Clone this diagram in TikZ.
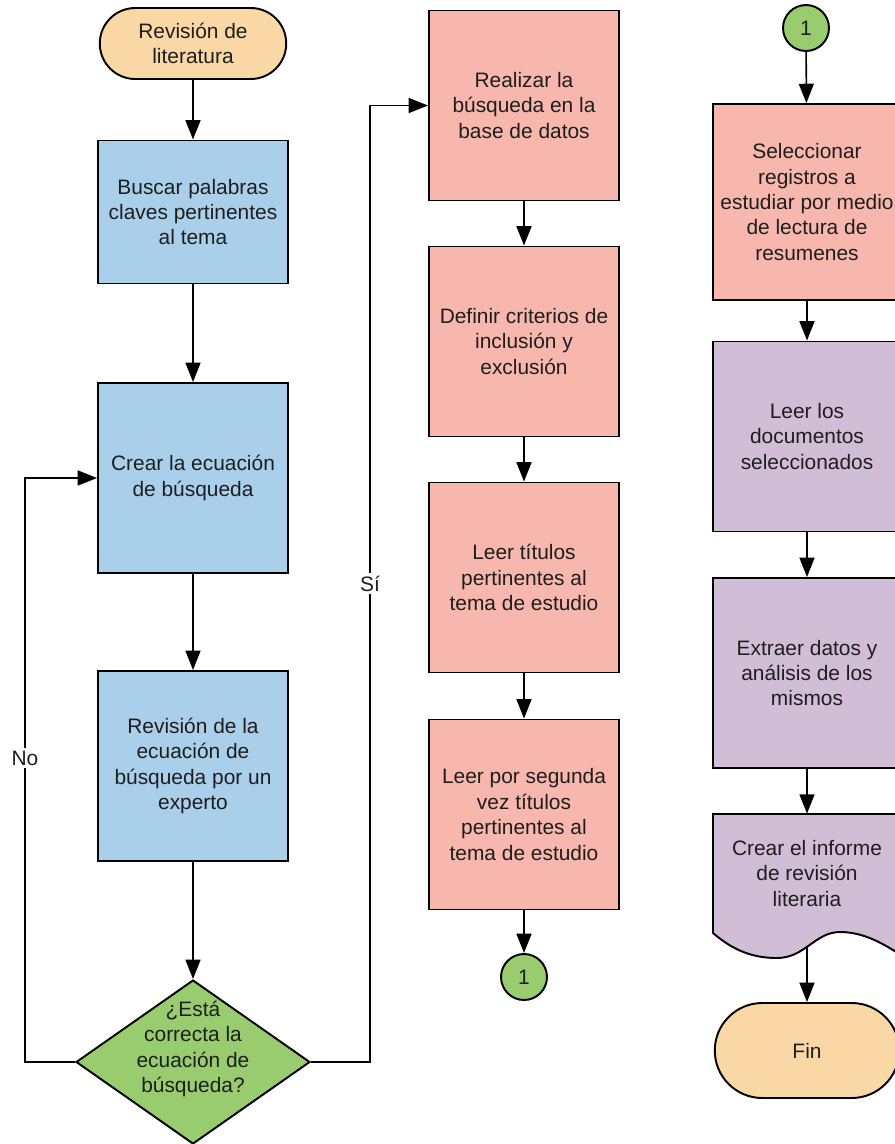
\documentclass[tikz,border=0pt]{standalone}
\usepackage{fontspec}
\setmainfont{Liberation Sans}
\usetikzlibrary{shapes.geometric,shapes.misc,arrows.meta}
\definecolor{termcol}{RGB}{250,216,166}
\definecolor{bluecol}{RGB}{170,207,234}
\definecolor{redcol}{RGB}{247,183,173}
\definecolor{purpcol}{RGB}{209,189,213}
\definecolor{greencol}{RGB}{152,204,110}
\definecolor{txtcol}{RGB}{30,30,30}
\begin{document}
\begin{tikzpicture}[>={Triangle[length=11pt,width=8.5pt]}, x=0.02cm, y=-0.02cm]
\tikzstyle{every node}=[font=\fontsize{11.9}{14.5}\selectfont, text=txtcol, align=center]
\tikzstyle{box}=[draw, line width=1.1pt, rectangle, minimum width=3.8cm, minimum height=3.8cm, inner sep=1pt]
\tikzstyle{term}=[draw, line width=1.1pt, rounded rectangle, fill=termcol, minimum width=3.8cm, inner sep=1pt]
\tikzstyle{conn}=[draw, line width=1.1pt, circle, fill=greencol, minimum size=0.92cm, inner sep=0pt]
\tikzstyle{flow}=[->, line width=0.9pt]
\tikzstyle{lbl}=[fill=white, inner sep=1.5pt]
\useasboundingbox (0,0) rectangle (894,1144);
% left column
\node[term, minimum height=1.42cm](st) at (193,43.5) {Revisión de\\literatura};
\node[box, fill=bluecol, minimum height=2.86cm](b1) at (193,212) {Buscar palabras\\claves pertinentes\\al tema};
\node[box, fill=bluecol](b2) at (193,478) {Crear la ecuación\\de búsqueda};
\node[box, fill=bluecol](b3) at (193,766) {Revisión de la\\ecuación de\\búsqueda por un\\experto};
\node[draw, line width=1.1pt, diamond, fill=greencol, minimum width=4.68cm, minimum height=3.28cm, inner sep=0pt](d1) at (193,1062) {};
\node(d1txt) at (193,1049) {¿Está\\correcta la\\ecuación de\\búsqueda?};
\coordinate (nox) at (25,478);
\coordinate (six) at (370,105.5);
% middle column
\node[box, fill=redcol](r1) at (524,105.5) {Realizar la\\búsqueda en la\\base de datos};
\node[box, fill=redcol](r2) at (524,341.5) {Definir criterios de\\inclusión y\\exclusión};
\node[box, fill=redcol](r3) at (524,577.5) {Leer títulos\\pertinentes al\\tema de estudio};
\node[box, fill=redcol](r4) at (524,814.5) {Leer por segunda\\vez títulos\\pertinentes al\\tema de estudio};
\node[conn](c1) at (524,977) {1};
% right column
\node[conn](c2) at (806,28) {1};
\node[box, fill=redcol, minimum width=3.76cm, minimum height=3.92cm](r5) at (807,202) {Seleccionar\\registros a\\estudiar por medio\\de lectura de\\resumenes};
\node[box, fill=purpcol, minimum width=3.76cm](p1) at (807,436.5) {Leer los\\documentos\\seleccionados};
\node[box, fill=purpcol, minimum width=3.76cm](p2) at (807,673) {Extraer datos y\\análisis de los\\mismos};
\filldraw[line width=1.1pt, fill=purpcol] (713,814) -- (901,814) -- (901,955)
  .. controls (885,945) and (865,932) .. (840,932)
  .. controls (815,932) and (805,958) .. (777,958)
  .. controls (755,958) and (735,952) .. (713,933) -- cycle;
\node[minimum width=3.76cm, minimum height=2.38cm, inner sep=0pt](doc) at (807,873.5) {Crear el informe\\de revisión\\literaria};
\coordinate (docb) at (807,946);
\node[term, minimum width=3.76cm, minimum height=1.9cm](fin) at (807,1050.5) {Fin};
% connectors
\draw[flow] (st) -- (b1);
\draw[flow] (b1) -- (b2);
\draw[flow] (b2) -- (b3);
\draw[flow] (b3) -- (d1);
\draw[flow] (d1.west) -| (nox) node[lbl, pos=0.76](nolbl) {No} -- (b2.west);
\draw[flow] (d1.east) -| (six) node[lbl, pos=0.75](silbl) {Sí} -- (r1.west);
\draw[flow] (r1) -- (r2);
\draw[flow] (r2) -- (r3);
\draw[flow] (r3) -- (r4);
\draw[flow] (r4) -- (c1);
\draw[flow] (c2) -- (r5);
\draw[flow] (r5) -- (p1);
\draw[flow] (p1) -- (p2);
\draw[flow] (p2) -- (doc.north);
\draw[flow] (docb) -- (fin);
\end{tikzpicture}
\end{document}
